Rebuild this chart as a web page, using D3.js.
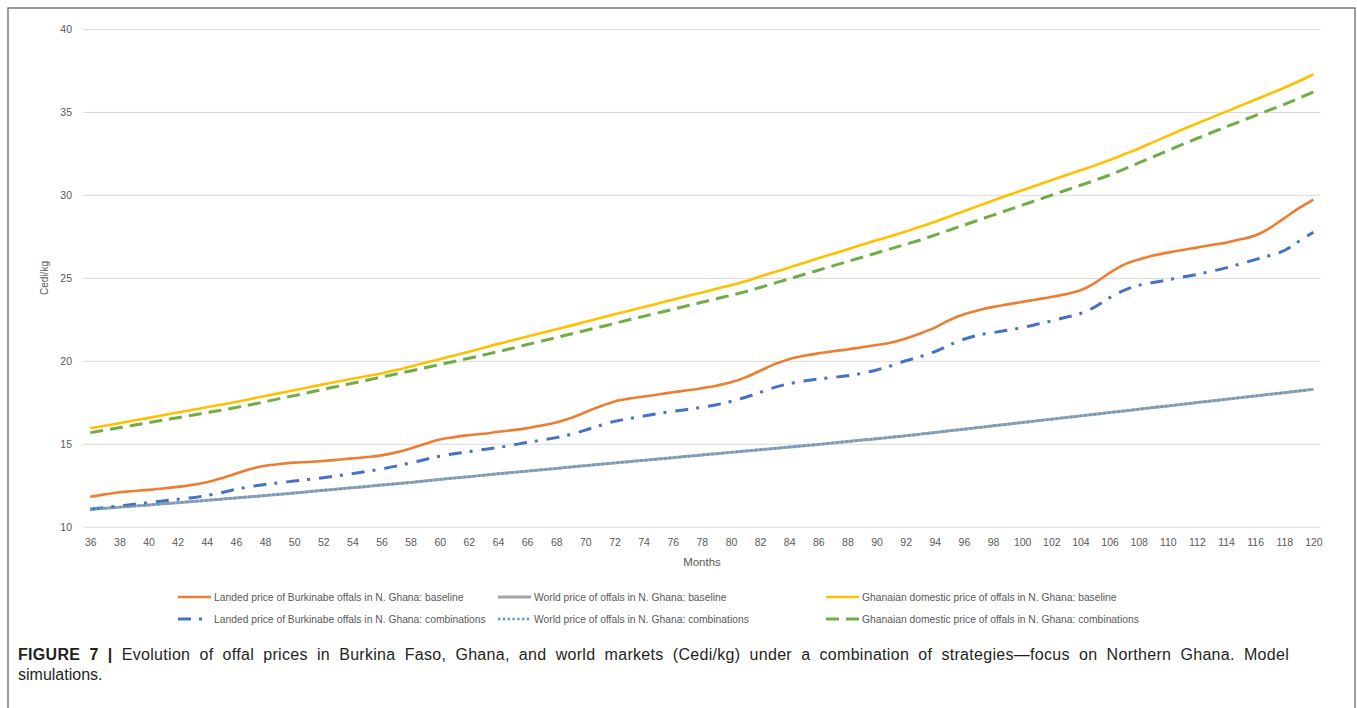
<!DOCTYPE html>
<html>
<head>
<meta charset="utf-8">
<script src="https://cdn.jsdelivr.net/npm/d3@7"></script>
<style>
  html, body { margin: 0; padding: 0; background: #fff; }
  svg { display: block; }
</style>
</head>
<body>
<svg id="chart" width="1357" height="708"></svg>
<script>
// ---- DATA (months 36..120) ----
const months = d3.range(36, 121);
const yTicks = [10, 15, 20, 25, 30, 35, 40];

const landedBaseline = [
  11.8, 11.95, 12.08, 12.15, 12.22, 12.3, 12.4, 12.52, 12.68, 12.92,
  13.2, 13.48, 13.67, 13.78, 13.86, 13.9, 13.96, 14.04, 14.12, 14.2,
  14.3, 14.48, 14.72, 15.0, 15.25, 15.4, 15.52, 15.6, 15.72, 15.82,
  15.94, 16.1, 16.28, 16.55, 16.9, 17.25, 17.55, 17.72, 17.85, 17.97,
  18.1, 18.22, 18.35, 18.5, 18.7, 19.0, 19.4, 19.8, 20.1, 20.3,
  20.45, 20.58, 20.68, 20.82, 20.95, 21.1, 21.35, 21.65, 22.0, 22.45,
  22.8, 23.05, 23.25, 23.4, 23.55, 23.7, 23.85, 24.02, 24.25, 24.7,
  25.3, 25.8, 26.1, 26.35, 26.52, 26.68, 26.82, 26.98, 27.12, 27.32,
  27.55, 28.0, 28.6, 29.2, 29.72
];
const worldBaseline = [
  11.05, 11.11, 11.18, 11.24, 11.31, 11.38, 11.45, 11.52, 11.59, 11.66,
  11.73, 11.8, 11.88, 11.95, 12.03, 12.11, 12.19, 12.27, 12.35, 12.43,
  12.51, 12.59, 12.67, 12.76, 12.85, 12.93, 13.01, 13.1, 13.19, 13.27,
  13.35, 13.43, 13.51, 13.6, 13.68, 13.76, 13.84, 13.92, 14.0, 14.08,
  14.16, 14.24, 14.32, 14.4, 14.48, 14.56, 14.64, 14.72, 14.8, 14.88,
  14.96, 15.05, 15.13, 15.22, 15.3, 15.39, 15.48, 15.58, 15.68, 15.78,
  15.88, 15.98, 16.08, 16.18, 16.28, 16.38, 16.48, 16.58, 16.68, 16.78,
  16.88, 16.98, 17.08, 17.18, 17.28, 17.38, 17.48, 17.58, 17.68, 17.78,
  17.88, 17.98, 18.08, 18.18, 18.28
];
const ghanaBaseline = [
  15.93, 16.08, 16.24, 16.4, 16.56, 16.72, 16.88, 17.04, 17.2, 17.36,
  17.52, 17.7, 17.88, 18.05, 18.23, 18.4, 18.58, 18.75, 18.92, 19.08,
  19.24, 19.44, 19.66, 19.88, 20.1, 20.32, 20.54, 20.78, 21.02, 21.24,
  21.46, 21.68, 21.9, 22.12, 22.35, 22.58, 22.8, 23.02, 23.24, 23.46,
  23.68, 23.9, 24.12, 24.34, 24.56, 24.8, 25.08, 25.35, 25.62, 25.9,
  26.18, 26.45, 26.72, 27.0, 27.26, 27.52, 27.8, 28.08, 28.38, 28.7,
  29.02, 29.34, 29.66, 29.98, 30.28, 30.58, 30.88, 31.18, 31.48, 31.78,
  32.1, 32.45, 32.8, 33.18, 33.56, 33.94, 34.3, 34.66, 35.02, 35.38,
  35.74, 36.1, 36.46, 36.85, 37.27
];
const landedComb = [
  11.05, 11.15, 11.25, 11.35, 11.45, 11.55, 11.65, 11.75, 11.88, 12.05,
  12.25, 12.42, 12.55, 12.65, 12.75, 12.85, 12.95, 13.07, 13.2, 13.33,
  13.48, 13.65, 13.85, 14.05, 14.25, 14.4, 14.52, 14.65, 14.77, 14.92,
  15.08, 15.22, 15.37, 15.57, 15.82, 16.1, 16.35, 16.52, 16.67, 16.82,
  16.95, 17.07, 17.2, 17.35, 17.55, 17.8, 18.1, 18.4, 18.62, 18.78,
  18.9, 19.0, 19.1, 19.25, 19.45, 19.7, 20.0, 20.25, 20.55, 20.95,
  21.3, 21.55, 21.7, 21.85, 22.0, 22.2, 22.4, 22.62, 22.85, 23.25,
  23.8, 24.25, 24.55, 24.72, 24.88, 25.05, 25.2, 25.4, 25.6, 25.85,
  26.1, 26.35, 26.65, 27.2, 27.75
];
const worldComb = [
  11.05, 11.11, 11.18, 11.24, 11.31, 11.38, 11.45, 11.52, 11.59, 11.66,
  11.73, 11.8, 11.88, 11.95, 12.03, 12.11, 12.19, 12.27, 12.35, 12.43,
  12.51, 12.59, 12.67, 12.76, 12.85, 12.93, 13.01, 13.1, 13.19, 13.27,
  13.35, 13.43, 13.51, 13.6, 13.68, 13.76, 13.84, 13.92, 14.0, 14.08,
  14.16, 14.24, 14.32, 14.4, 14.48, 14.56, 14.64, 14.72, 14.8, 14.88,
  14.96, 15.05, 15.13, 15.22, 15.3, 15.39, 15.48, 15.58, 15.68, 15.78,
  15.88, 15.98, 16.08, 16.18, 16.28, 16.38, 16.48, 16.58, 16.68, 16.78,
  16.88, 16.98, 17.08, 17.18, 17.28, 17.38, 17.48, 17.58, 17.68, 17.78,
  17.88, 17.98, 18.08, 18.18, 18.28
];
const ghanaComb = [
  15.67, 15.82, 15.97, 16.12, 16.27, 16.42, 16.57, 16.72, 16.87, 17.02,
  17.18, 17.35, 17.53, 17.72, 17.9, 18.09, 18.28, 18.46, 18.65, 18.83,
  19.02, 19.2, 19.39, 19.58, 19.77, 19.96, 20.15, 20.35, 20.55, 20.76,
  20.98, 21.19, 21.4, 21.62, 21.83, 22.04, 22.25, 22.47, 22.68, 22.89,
  23.1, 23.32, 23.53, 23.74, 23.95, 24.17, 24.42, 24.68, 24.94, 25.2,
  25.46, 25.72, 25.98, 26.24, 26.5, 26.76, 27.02, 27.28, 27.58, 27.88,
  28.18, 28.48, 28.78, 29.08, 29.38, 29.68, 29.98, 30.28, 30.58, 30.88,
  31.2, 31.56, 31.93, 32.3, 32.67, 33.04, 33.4, 33.76, 34.1, 34.44,
  34.78, 35.12, 35.46, 35.82, 36.2
];

const seriesNames = [
  "Landed price of Burkinabe offals in N. Ghana: baseline",
  "World price of offals in N. Ghana: baseline",
  "Ghanaian domestic price of offals in N. Ghana: baseline",
  "Landed price of Burkinabe offals in N. Ghana: combinations",
  "World price of offals in N. Ghana: combinations",
  "Ghanaian domestic price of offals in N. Ghana: combinations"
];
const seriesValues = [landedBaseline, worldBaseline, ghanaBaseline, landedComb, worldComb, ghanaComb];

const captionLabel = "FIGURE 7 | ";
const captionLine1 = "Evolution of offal prices in Burkina Faso, Ghana, and world markets (Cedi/kg) under a combination of strategies\u2014focus on Northern Ghana. Model";
const captionLine2 = "simulations.";

// ---- STYLES ----
const styles = [
  { color: "#ED7D31", width: 2.6, dash: null },
  { color: "#A5A5A5", width: 3.0, dash: null },
  { color: "#FFC000", width: 2.6, dash: null },
  { color: "#4472C4", width: 3.0, dash: "13,8,3,9" },
  { color: "#5B9BD5", width: 2.4, dash: "2.4,2.4" },
  { color: "#70AD47", width: 3.0, dash: "13,7" }
];

const svg = d3.select("#chart");
const textColor = "#595959";
const font = "'Liberation Sans', Arial, sans-serif";

// frame
svg.append("rect").attr("x", 8).attr("y", 8).attr("width", 1347).attr("height", 720)
  .attr("fill", "none").attr("stroke", "#666").attr("stroke-width", 1.3);

const x = d3.scalePoint().domain(months).range([83, 1320.7]).padding(0.5);
const y = d3.scaleLinear().domain([10, 40]).range([526.7, 29]);

// gridlines / y axis
const yAxis = svg.append("g").attr("transform", "translate(83,0)")
  .call(d3.axisLeft(y).tickValues(yTicks).tickSize(-(1320.7 - 83)).tickPadding(11));
yAxis.select(".domain").remove();
yAxis.selectAll(".tick line").attr("stroke", "#D9D9D9").attr("stroke-width", 1);
yAxis.selectAll(".tick text").attr("fill", textColor).style("font-family", font).style("font-size", "10.5px");

// x axis
const xAxis = svg.append("g").attr("transform", "translate(0,526.7)")
  .call(d3.axisBottom(x).tickValues(months.filter(m => m % 2 === 0)).tickSize(0).tickPadding(12));
xAxis.select(".domain").remove();
xAxis.selectAll(".tick text").attr("fill", textColor).style("font-family", font).style("font-size", "10.5px");

// axis titles
svg.append("text").attr("transform", "translate(48,278) rotate(-90)")
  .attr("text-anchor", "middle").attr("fill", textColor)
  .style("font-family", font).style("font-size", "10px").text("Cedi/kg");
svg.append("text").attr("x", 702).attr("y", 566)
  .attr("text-anchor", "middle").attr("fill", textColor)
  .style("font-family", font).style("font-size", "11.5px").text("Months");

// lines
const line = d3.line().x((d, i) => x(months[i])).y(d => y(d)).curve(d3.curveMonotoneX);
seriesValues.forEach((vals, k) => {
  const s = styles[k];
  svg.append("path").datum(vals).attr("d", line)
    .attr("fill", "none").attr("stroke", s.color).attr("stroke-width", s.width)
    .attr("stroke-dasharray", s.dash).attr("stroke-linejoin", "round");
});

// legend
const legendCols = [178, 498, 826];
const legendRows = [597, 619];
seriesNames.forEach((name, k) => {
  const col = k % 3, row = Math.floor(k / 3);
  const lx = legendCols[col], ly = legendRows[row];
  const s = styles[k];
  svg.append("line").attr("x1", lx).attr("x2", lx + 33).attr("y1", ly).attr("y2", ly)
    .attr("stroke", s.color).attr("stroke-width", s.width).attr("stroke-dasharray", s.dash);
  svg.append("text").attr("x", lx + 36).attr("y", ly).attr("dy", "0.35em")
    .attr("fill", textColor).style("font-family", font).style("font-size", "10.3px").text(name);
});

// caption (first line justified to the frame width)
const capFont = "'Liberation Sans', Arial, sans-serif";
const cap = svg.append("text").attr("x", 18).attr("y", 660)
  .attr("fill", "#231F20").style("font-family", capFont).style("font-size", "16px")
  .style("letter-spacing", "0.3px");
cap.append("tspan").style("font-weight", "bold").text(captionLabel);
cap.append("tspan").text(captionLine1);
const natural = cap.node().getComputedTextLength();
const nSpaces = (captionLabel + captionLine1).trim().split(" ").length - 1;
const target = 1289 - 18;
if (natural < target) cap.style("word-spacing", ((target - natural) / nSpaces) + "px");
svg.append("text").attr("x", 18).attr("y", 680)
  .attr("fill", "#231F20").style("font-family", capFont).style("font-size", "16px")
  .text(captionLine2);
</script>
</body>
</html>
